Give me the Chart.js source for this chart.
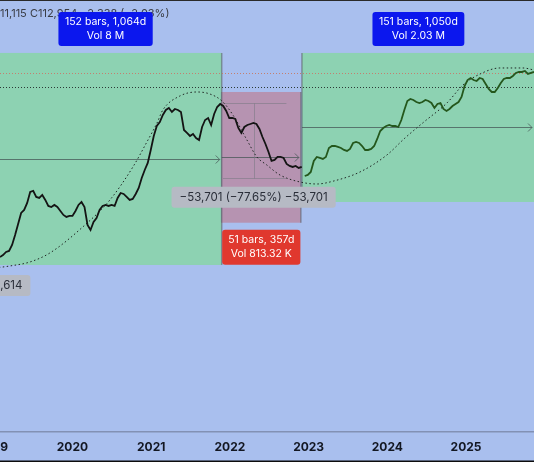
<!DOCTYPE html>
<html><head><meta charset="utf-8">
<script src="https://cdn.jsdelivr.net/npm/chart.js@4.4.1/dist/chart.umd.min.js"></script>
<style>html,body{margin:0;padding:0;background:#a9bfee;overflow:hidden}canvas{display:block}</style>
</head><body>
<canvas id="c" width="534" height="462"></canvas>
<script>
// ---------------- data ----------------
const yearTicks = [2019, 2020, 2021, 2022, 2023, 2024, 2025];
const viewStart = '2019-01-30';
const viewEnd = '2025-11-12';
const priceMin = 95.8;
const priceMax = 542000;

// two-week closes, 2019 – Nov 2022 (drawn black)
const blackDates = ['2019-01-30','2019-02-13','2019-02-27','2019-03-13','2019-03-27','2019-04-10','2019-04-24','2019-05-08','2019-05-22','2019-06-05','2019-06-19','2019-07-03','2019-07-17','2019-07-31','2019-08-14','2019-08-28','2019-09-11','2019-09-25','2019-10-09','2019-10-23','2019-11-06','2019-11-20','2019-12-04','2019-12-18',
'2020-01-01','2020-01-15','2020-01-29','2020-02-12','2020-02-26','2020-03-11','2020-03-25','2020-04-08','2020-04-22','2020-05-06','2020-05-20','2020-06-03','2020-06-17','2020-07-01','2020-07-15','2020-07-29','2020-08-12','2020-08-26','2020-09-09','2020-09-23','2020-10-07','2020-10-21','2020-11-04','2020-11-18','2020-12-02','2020-12-16','2020-12-30',
'2021-01-13','2021-01-27','2021-02-10','2021-02-24','2021-03-10','2021-03-24','2021-04-07','2021-04-21','2021-05-05','2021-05-19','2021-06-02','2021-06-16','2021-06-30','2021-07-14','2021-07-28','2021-08-11','2021-08-25','2021-09-08','2021-09-22','2021-10-06','2021-10-20','2021-11-03','2021-11-17','2021-12-01','2021-12-15','2021-12-29',
'2022-01-12','2022-01-26','2022-02-09','2022-02-23','2022-03-09','2022-03-23','2022-04-06','2022-04-20','2022-05-04','2022-05-18','2022-06-01','2022-06-15','2022-06-29','2022-07-13','2022-07-27','2022-08-10','2022-08-24','2022-09-07','2022-09-21','2022-10-05','2022-10-19','2022-11-02','2022-11-16','2022-11-30'];
const blackCloses = [3170,3300,3510,3580,4040,4930,6150,7660,8130,9350,11650,11890,10550,10340,10980,9930,8810,8630,8990,8630,7970,7360,7070,7210,
7210,7970,8990,9540,8630,6030,5450,6400,6930,8130,8810,8990,8810,8990,8810,10340,11420,11200,10550,9930,10130,11200,12630,15410,18090,20810,26990,
35710,43610,47240,54340,60060,62510,57710,61270,60060,57710,40260,37920,35710,37160,34310,32960,42750,49170,51180,44490,55440,63770,67710,65050,58870,51180,
51180,50160,41900,37920,42750,44490,45390,46310,45390,41070,35000,30430,25930,21660,22100,23470,23470,23000,20400,19600,19210,19600,18830,19210];

// two-week closes, Dec 2022 – Nov 2025 (drawn green)
const greenDates = ['2022-12-14','2022-12-28',
'2023-01-11','2023-01-25','2023-02-08','2023-02-22','2023-03-08','2023-03-22','2023-04-05','2023-04-19','2023-05-03','2023-05-17','2023-05-31','2023-06-14','2023-06-28','2023-07-12','2023-07-26','2023-08-09','2023-08-23','2023-09-06','2023-09-20','2023-10-04','2023-10-18','2023-11-01','2023-11-15','2023-11-29','2023-12-13','2023-12-27',
'2024-01-10','2024-01-24','2024-02-07','2024-02-21','2024-03-06','2024-03-20','2024-04-03','2024-04-17','2024-05-01','2024-05-15','2024-05-29','2024-06-12','2024-06-26','2024-07-10','2024-07-24','2024-08-07','2024-08-21','2024-09-04','2024-09-18','2024-10-02','2024-10-16','2024-10-30','2024-11-13','2024-11-27','2024-12-11','2024-12-25',
'2025-01-08','2025-01-22','2025-02-05','2025-02-19','2025-03-05','2025-03-19','2025-04-02','2025-04-16','2025-04-30','2025-05-14','2025-05-28','2025-06-11','2025-06-25','2025-07-09','2025-07-23','2025-08-06','2025-08-20','2025-09-03','2025-09-17','2025-10-01','2025-10-15','2025-10-29','2025-11-12'];
const greenCloses = [16040,16370,
17380,21660,23470,23000,22550,23470,28090,29230,29230,28660,28090,26990,26460,27540,31040,31670,31040,29230,26990,26990,27540,29230,33630,39460,41900,43610,
44490,43610,43610,42750,49170,60060,71900,74830,73350,70480,69080,70480,73350,71900,69080,62500,67710,69080,61270,58870,61270,65050,67710,70480,77900,97060,
109400,113860,109400,107230,113860,111610,100990,91410,86090,86090,93260,103030,111610,113860,113860,118510,125920,128460,128460,131050,123420,125920,128460];

// dotted cycle curve
const arcDates = ['2019-01-06','2019-03-17','2019-06-18','2019-09-18','2020-02-18','2020-06-23','2020-10-08','2020-12-12','2021-01-28','2021-02-24','2021-05-14','2021-08-01','2021-09-30','2021-11-25','2022-01-15','2022-03-21','2022-05-06','2022-06-21','2022-08-21','2022-11-22','2023-02-09','2023-04-28','2023-08-27','2023-12-30','2024-03-23','2024-06-19','2024-10-04','2024-12-18','2025-03-07','2025-06-07','2025-09-22','2025-11-12'];
const arcPrices = [2548,2652,2873,3438,5790,9930,19210,31670,46310,60060,79460,86090,82710,71900,54340,32960,23470,20000,16370,14230,13670,14520,17380,24420,34300,47240,69080,99030,123420,139150,139150,133700];

// date & price range boxes
const boxStarts = ['2018-12-12','2021-11-24','2022-12-01'];
const boxEnds   = ['2021-11-24','2022-11-26','2025-11-16'];
const boxLows   = [2705, 6300, 9540];
const boxHighs  = [188000, 86100, 188000];
const boxKinds  = ['up','down','up'];
const boxBars   = ['152 bars, 1,064d','51 bars, 357d','151 bars, 1,050d'];
const boxVols   = ['Vol 8 M','Vol 813.32 K','Vol 2.03 M'];

// horizontal levels
const levelPrices = [125100, 95700];
const levelColors = ['#c47f6f','#2b3a36'];

// price range measure
const rangeCenter = '2022-04-21';
const rangeFrom = '2021-11-30';
const rangeTo = '2022-09-20';
const rangeHigh = 69158;
const rangeLow = 15457;
const rangeText = '\u221253,701 (\u221277.65%) \u221253,701';
const sideLabelDate = '2019-06-20';
const sideLabelText = '65,614';
const statusText = '11,115 C112,954 \u22122,338 (\u22122.03%)';

// ---------------- helpers ----------------
const toYear = s => { const [y,m,d] = s.split('-').map(Number); const a = Date.UTC(y,0,1), b = Date.UTC(y+1,0,1); return y + (Date.UTC(y,m-1,d) - a) / (b - a); };
const pts = (ds, vs) => ds.map((d,i) => ({x: toYear(d), y: vs[i]}));
const FONT = 'Inter, "Noto Sans", sans-serif';
const BG = '#a9bfee', GREEN = '#8dd2b2', PINK = '#b693b1';

function arrowLine(ctx, x0, x1, yy) {
  ctx.beginPath(); ctx.moveTo(x0, yy); ctx.lineTo(x1, yy);
  ctx.moveTo(x1 - 4, yy - 4); ctx.lineTo(x1, yy); ctx.lineTo(x1 - 4, yy + 4); ctx.stroke();
}
function tag(ctx, lines, cx, top, h, bg, fg, font, pad) {
  ctx.font = font;
  const w = Math.max(...lines.map(t => ctx.measureText(t).width)) + pad * 2;
  ctx.fillStyle = bg; ctx.beginPath(); ctx.roundRect(cx - w / 2, top, w, h, 3); ctx.fill();
  ctx.fillStyle = fg; ctx.textAlign = 'center'; ctx.textBaseline = 'middle';
  lines.forEach((t, i) => ctx.fillText(t, cx, top + (lines.length === 1 ? h / 2 + 0.5 : 10 + i * 14)));
}

const overlay = {
  id: 'overlay',
  beforeDraw(chart) {
    const {ctx, width, height} = chart;
    ctx.save(); ctx.fillStyle = BG; ctx.fillRect(0, 0, width, height); ctx.restore();
  },
  beforeDatasetsDraw(chart) {
    const {ctx, chartArea, scales: {x, y}} = chart;
    ctx.save();
    ctx.beginPath(); ctx.rect(chartArea.left, chartArea.top, chartArea.right - chartArea.left, chartArea.bottom - chartArea.top); ctx.clip();
    boxStarts.forEach((s, i) => {
      const x0 = x.getPixelForValue(toYear(s)), x1 = x.getPixelForValue(toYear(boxEnds[i]));
      const y0 = y.getPixelForValue(boxHighs[i]), y1 = y.getPixelForValue(boxLows[i]);
      ctx.fillStyle = boxKinds[i] === 'up' ? GREEN : PINK;
      ctx.fillRect(x0, y0, x1 - x0, y1 - y0);
      ctx.strokeStyle = 'rgba(95,100,110,0.6)'; ctx.lineWidth = 1.5;
      ctx.beginPath(); ctx.moveTo(x0, y0); ctx.lineTo(x0, y1); ctx.moveTo(x1, y0); ctx.lineTo(x1, y1); ctx.stroke();
    });
    boxStarts.forEach((s, i) => {
      const x0 = x.getPixelForValue(toYear(s)), x1 = x.getPixelForValue(toYear(boxEnds[i]));
      const ym = Math.round(y.getPixelForValue(Math.sqrt(boxHighs[i] * boxLows[i]))) + 0.5;
      ctx.strokeStyle = 'rgba(70,85,85,0.75)'; ctx.lineWidth = 1;
      arrowLine(ctx, Math.max(x0, chartArea.left), Math.min(x1, chartArea.right) - 2, ym);
    });
    // price range measure
    const rc = Math.round(x.getPixelForValue(toYear(rangeCenter))) + 0.5;
    const ra = x.getPixelForValue(toYear(rangeFrom)), rb = x.getPixelForValue(toYear(rangeTo));
    const rh = Math.round(y.getPixelForValue(rangeHigh)) + 0.5, rl = Math.round(y.getPixelForValue(rangeLow)) + 0.5;
    ctx.strokeStyle = 'rgba(120,120,130,0.55)'; ctx.lineWidth = 1;
    ctx.beginPath(); ctx.moveTo(ra, rh); ctx.lineTo(rb, rh); ctx.moveTo(ra, rl); ctx.lineTo(rb, rl);
    ctx.moveTo(rc, rh); ctx.lineTo(rc, rl); ctx.stroke();
    // levels
    levelPrices.forEach((p, i) => {
      const yy = Math.round(y.getPixelForValue(p)) + 0.5;
      ctx.strokeStyle = levelColors[i]; ctx.lineWidth = 1; ctx.setLineDash([1, 2]);
      ctx.beginPath(); ctx.moveTo(chartArea.left, yy); ctx.lineTo(chartArea.right, yy); ctx.stroke();
    });
    ctx.restore();
  },
  afterDraw(chart) {
    const {ctx, scales: {x, y}, width, height} = chart;
    ctx.save();
    // status line
    ctx.font = '11px ' + FONT; ctx.fillStyle = '#3a3d45'; ctx.textAlign = 'left'; ctx.textBaseline = 'middle';
    ctx.fillText(statusText, 0, 14);
    // box labels
    const labFont = '10.5px ' + FONT;
    boxStarts.forEach((s, i) => {
      const x0 = x.getPixelForValue(toYear(s)), x1 = x.getPixelForValue(toYear(boxEnds[i]));
      const cx = (x0 + x1) / 2;
      if (boxKinds[i] === 'up') {
        const top = y.getPixelForValue(boxHighs[i]) - 7 - 34;
        tag(ctx, [boxBars[i], boxVols[i]], cx, top, 34, '#0b17ee', '#ffffff', labFont, 6.5);
      } else {
        const top = y.getPixelForValue(boxLows[i]) + 7;
        tag(ctx, [boxBars[i], boxVols[i]], cx, top, 35, '#e0382e', '#ffffff', labFont, 6);
      }
    });
    // range label
    const rc = x.getPixelForValue(toYear(rangeCenter));
    tag(ctx, [rangeText], rc, y.getPixelForValue(rangeLow) + 9, 21, '#b6bac4', '#2a2e39', '11.5px ' + FONT, 8);
    // side label (right part visible)
    ctx.font = '11.5px ' + FONT;
    const sx = x.getPixelForValue(toYear(sideLabelDate));
    const sTop = y.getPixelForValue(boxLows[0]) + 10;
    const sw = ctx.measureText(sideLabelText).width + 16;
    ctx.fillStyle = '#b6bac4'; ctx.beginPath(); ctx.roundRect(sx - sw, sTop, sw, 21, 3); ctx.fill();
    ctx.fillStyle = '#2a2e39'; ctx.textAlign = 'right'; ctx.textBaseline = 'middle';
    ctx.fillText(sideLabelText, sx - 8, sTop + 11);
    // frame lines
    ctx.fillStyle = '#2a2a2a'; ctx.fillRect(0, 0, width, 1);
    ctx.fillStyle = '#0d0d0d'; ctx.fillRect(0, height - 1.5, width, 1.5);
    ctx.restore();
  }
};

new Chart(document.getElementById('c'), {
  type: 'line',
  data: {
    datasets: [
      {label: 'BTC 2019-2022', data: pts(blackDates, blackCloses), borderColor: '#141414', borderWidth: 1.8, pointRadius: 0, tension: 0},
      {label: 'BTC 2022-2025', data: pts(greenDates, greenCloses), borderColor: '#24571c', borderWidth: 1.8, pointRadius: 0, tension: 0},
      {label: 'Cycle arc', data: pts(arcDates, arcPrices), borderColor: '#1f2623', borderWidth: 1, borderDash: [1.5, 2.5], pointRadius: 0, cubicInterpolationMode: 'monotone'}
    ]
  },
  options: {
    responsive: false, animation: false, events: [],
    layout: {padding: 0},
    plugins: {legend: {display: false}, tooltip: {enabled: false}},
    scales: {
      x: {
        type: 'linear', min: toYear(viewStart), max: toYear(viewEnd),
        grid: {display: false, drawTicks: false},
        border: {display: true, color: '#8291b4', width: 1.5},
        ticks: {autoSkip: false, maxRotation: 0, padding: 8, color: '#131722', font: {family: FONT, size: 12, weight: 'bold'}, callback: v => String(v)},
        afterBuildTicks: ax => { ax.ticks = yearTicks.map(v => ({value: v})); },
        afterFit: ax => { ax.height = 30; ax.paddingLeft = 0; ax.paddingRight = 0; }
      },
      y: {type: 'logarithmic', min: priceMin, max: priceMax, display: false}
    }
  },
  plugins: [overlay]
});
</script>
</body></html>
